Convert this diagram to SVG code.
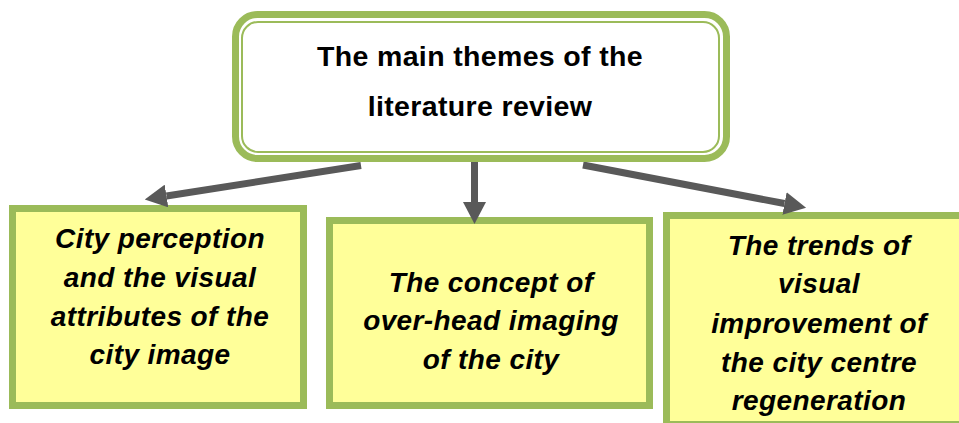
<svg xmlns="http://www.w3.org/2000/svg" width="959" height="423" viewBox="0 0 959 423">
  <style>
    .theme { fill: #FFFF99; stroke: #9BBB59; stroke-width: 7; }
    .label { font-family: "Liberation Sans", Arial, sans-serif; font-weight: bold; font-style: italic; font-size: 28px; letter-spacing: 0.4px; fill: #000; text-anchor: middle; }
    .title { font-family: "Liberation Sans", Arial, sans-serif; font-weight: bold; font-size: 28.5px; letter-spacing: 0.35px; fill: #000; text-anchor: middle; }
    .link { stroke: #595959; stroke-width: 7; fill: none; marker-end: url(#head); }
  </style>
  <defs>
    <marker id="head" markerUnits="userSpaceOnUse" viewBox="0 0 22 23" refX="0" refY="11.5" markerWidth="22" markerHeight="23" orient="auto">
      <path d="M0,0 L22,11.5 L0,23 Z" fill="#595959"/>
    </marker>
  </defs>
  <rect width="959" height="423" fill="#FFFFFF"/>

  <!-- theme 1 -->
  <g id="node-perception">
    <rect class="theme" x="12.5" y="208.5" width="291" height="197"/>
    <text class="label" x="160" y="248">City perception</text>
    <text class="label" x="160" y="287">and the visual</text>
    <text class="label" x="160" y="326">attributes of the</text>
    <text class="label" x="160" y="364">city image</text>
  </g>

  <!-- theme 2 -->
  <g id="node-overhead">
    <rect class="theme" x="329.5" y="220.5" width="320" height="185"/>
    <text class="label" x="491" y="292">The concept of</text>
    <text class="label" x="491" y="330">over-head imaging</text>
    <text class="label" x="491" y="369">of the city</text>
  </g>

  <!-- theme 3 (runs past the right and bottom edges) -->
  <g id="node-trends">
    <rect class="theme" x="666.5" y="215.5" width="310" height="209"/>
    <text class="label" x="819" y="255">The trends of</text>
    <text class="label" x="819" y="293">visual</text>
    <text class="label" x="819" y="333">improvement of</text>
    <text class="label" x="819" y="372">the city centre</text>
    <text class="label" x="819" y="410">regeneration</text>
  </g>

  <!-- arrows from the main theme box -->
  <g id="connectors">
    <line class="link" x1="361" y1="165.5" x2="166.5" y2="196"/>
    <line class="link" x1="474.5" y1="160" x2="474.5" y2="202"/>
    <line class="link" x1="583" y1="165" x2="784.5" y2="203.5"/>
  </g>

  <!-- main theme box: thick green outline with a thin inner line -->
  <g id="node-main">
    <rect x="235.5" y="14.5" width="491" height="144" rx="22" fill="#FFFFFF" stroke="#9BBB59" stroke-width="7"/>
    <rect x="242" y="22" width="477" height="130" rx="16" fill="none" stroke="#9BBB59" stroke-width="2"/>
    <text class="title" x="480" y="66">The main themes of the</text>
    <text class="title" x="480" y="116">literature review</text>
  </g>
</svg>
